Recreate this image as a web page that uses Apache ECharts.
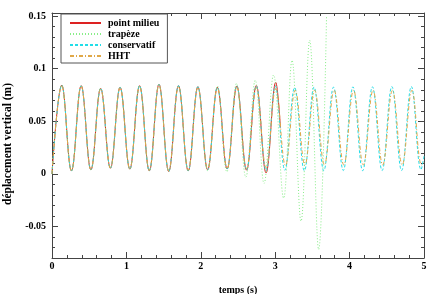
<!DOCTYPE html>
<html>
<head>
<meta charset="utf-8">
<script src="https://cdn.jsdelivr.net/npm/echarts@6/dist/echarts.min.js"></script>
<style>html,body{margin:0;padding:0;background:#fff}#c{width:431px;height:294px}</style>
</head>
<body>
<div id="c"></div>
<script>
// Series names
const seriesNames = ['point milieu', 'trapèze', 'conservatif', 'HHT'];

// point milieu (extrema)
const tMilieu = [0, 0.131, 0.2615, 0.392, 0.523, 0.654, 0.785, 0.915, 1.046, 1.177, 1.308, 1.438, 1.569, 1.700, 1.831, 1.961, 2.092, 2.223, 2.354, 2.484, 2.615, 2.746, 2.877, 3.007, 3.07];
const yMilieu = [0, 0.0845, 0.0028, 0.0839, 0.0038, 0.0814, 0.0054, 0.0823, 0.0045, 0.0839, 0.0028, 0.0852, 0.0022, 0.0839, 0.0028, 0.0829, 0.0038, 0.0823, 0.0047, 0.0836, 0.0035, 0.0840, 0.0010, 0.0870, 0.044];

// trapèze
const tTrapeze = [0, 0.131, 0.2615, 0.392, 0.523, 0.654, 0.785, 0.915, 1.046, 1.177, 1.308, 1.438, 1.569, 1.700, 1.831, 1.961, 2.092, 2.223, 2.350, 2.480, 2.605, 2.732, 2.850, 2.978, 3.113, 3.226, 3.347, 3.463, 3.584, 3.690];
const yTrapeze = [0, 0.0845, 0.0028, 0.0839, 0.0038, 0.0814, 0.0054, 0.0823, 0.0045, 0.0839, 0.0028, 0.0852, 0.0022, 0.0839, 0.0028, 0.0829, 0.0030, 0.0835, 0.0020, 0.0860, -0.0030, 0.0890, -0.0090, 0.0940, -0.0230, 0.1080, -0.0450, 0.1270, -0.0720, 0.1500];

// conservatif
const tConserv = [0, 0.131, 0.2615, 0.392, 0.523, 0.654, 0.785, 0.915, 1.046, 1.177, 1.308, 1.438, 1.569, 1.700, 1.831, 1.961, 2.092, 2.223, 2.354, 2.484, 2.615, 2.746, 2.877, 3.002, 3.130, 3.261, 3.392, 3.522, 3.653, 3.784, 3.915, 4.045, 4.176, 4.307, 4.437, 4.568, 4.699, 4.830, 4.960, 5.0];
const yConserv = [0, 0.0843, 0.0030, 0.0837, 0.0040, 0.0814, 0.0054, 0.0823, 0.0046, 0.0838, 0.0030, 0.0850, 0.0024, 0.0838, 0.0030, 0.0828, 0.0040, 0.0822, 0.0048, 0.0834, 0.0038, 0.0835, 0.0030, 0.0835, 0.0035, 0.0820, 0.0030, 0.0825, 0.0030, 0.0825, 0.0032, 0.0828, 0.0030, 0.0828, 0.0032, 0.0830, 0.0032, 0.0830, 0.0040, 0.0170];

// HHT
const tHHT = [0, 0.131, 0.2615, 0.392, 0.523, 0.654, 0.785, 0.915, 1.046, 1.177, 1.308, 1.438, 1.569, 1.700, 1.831, 1.961, 2.092, 2.223, 2.354, 2.484, 2.615, 2.746, 2.877, 3.007, 3.138, 3.269, 3.399, 3.530, 3.661, 3.792, 3.922, 4.053, 4.184, 4.315, 4.445, 4.576, 4.707, 4.838, 4.968, 5.0];
const yHHT = [0, 0.0840, 0.0030, 0.0835, 0.0040, 0.0810, 0.0055, 0.0820, 0.0050, 0.0830, 0.0035, 0.0845, 0.0030, 0.0830, 0.0035, 0.0820, 0.0045, 0.0815, 0.0050, 0.0825, 0.0050, 0.0820, 0.0060, 0.0810, 0.0080, 0.0795, 0.0085, 0.0795, 0.0085, 0.0795, 0.0085, 0.0795, 0.0085, 0.0795, 0.0085, 0.0795, 0.0085, 0.0795, 0.0085, 0.0110];

// Axis ticks
const xMin = 0, xMax = 5, xStep = 1;
const yMin = -0.08, yMax = 0.153, yMinorStep = 0.01;
const yMajorTicks = [-0.05, 0, 0.05, 0.1, 0.15];

const zip = (t, y) => t.map((v, i) => [v, y[i]]);

const font = '"Liberation Serif", "DejaVu Serif", serif';
const axisCol = '#444';

const chart = echarts.init(document.getElementById('c'), null, {renderer: 'canvas'});

function xAx(pos, labels) {
  return {
    type: 'value', position: pos, min: xMin, max: xMax, interval: xStep,
    name: labels ? 'temps (s)' : '', nameLocation: 'middle', nameGap: 27,
    nameTextStyle: {fontFamily: font, fontWeight: 'bold', fontSize: 10, color: '#000'},
    axisLine: {show: true, onZero: false, lineStyle: {color: axisCol, width: 1}},
    axisTick: {show: true, inside: true, length: 6, lineStyle: {color: axisCol}},
    minorTick: {show: true, splitNumber: 5, length: 3, lineStyle: {color: axisCol}},
    axisLabel: {show: labels, margin: 3, fontFamily: font, fontWeight: 'bold', fontSize: 10, color: '#000'},
    splitLine: {show: false}, minorSplitLine: {show: false}
  };
}
function yAx(pos, major, labels) {
  const a = {
    type: 'value', position: pos, min: yMin, max: yMax, offset: 0,
    axisLine: {show: !major, onZero: false, lineStyle: {color: axisCol, width: 1}},
    splitLine: {show: false},
    axisLabel: {show: false}
  };
  if (major) {
    a.axisTick = {show: true, inside: true, length: 6, customValues: yMajorTicks, lineStyle: {color: axisCol}};
  } else {
    a.interval = yMinorStep;
    a.axisTick = {show: true, inside: true, length: 3, lineStyle: {color: axisCol}};
  }
  if (labels) {
    a.axisLabel = {show: true, customValues: yMajorTicks, margin: 6, fontFamily: font, fontWeight: 'bold', fontSize: 10, color: '#000',
      formatter: v => String(Math.round(v * 100) / 100)};
    a.name = 'déplacement vertical (m)';
    a.nameLocation = 'middle';
    a.nameGap = 34;
    a.nameTextStyle = {fontFamily: font, fontWeight: 'bold', fontSize: 11.5, color: '#000', padding: [0, 0, 0, -17]};
  }
  return a;
}

const styles = [
  {color: '#dd2222', type: 'solid'},
  {color: '#88ee88', type: [1, 2]},
  {color: '#22dde8', type: [3, 2]},
  {color: '#e0a848', type: [4, 2, 1, 2]}
];
const datas = [zip(tMilieu, yMilieu), zip(tTrapeze, yTrapeze), zip(tConserv, yConserv), zip(tHHT, yHHT)];

chart.setOption({
  animation: false,
  backgroundColor: '#fff',
  grid: {left: 52, right: 7, top: 13, bottom: 36, containLabel: false, outerBoundsMode: 'none'},
  legend: {
    show: true, orient: 'vertical', left: 61, top: 14,
    padding: [4, 8, 2, 8], itemGap: 1, itemWidth: 31, itemHeight: 10,
    borderColor: '#555', borderWidth: 1, backgroundColor: '#fff',
    itemStyle: {opacity: 0, color: 'transparent', borderWidth: 0},
    textStyle: {fontFamily: font, fontWeight: 'bold', fontSize: 10, color: '#000', padding: [0, 0, 0, 2]},
    data: seriesNames.map(n => ({name: n}))
  },
  xAxis: [xAx('bottom', true), xAx('top', false)],
  yAxis: [yAx('left', false, true), yAx('left', true, false), yAx('right', false, false), yAx('right', true, false)],
  series: seriesNames.map((n, i) => ({
    name: n, type: 'line', xAxisIndex: 0, yAxisIndex: 0,
    data: datas[i], smooth: 0.4, symbol: 'none', showSymbol: false,
    color: styles[i].color,
    lineStyle: {width: 1, color: styles[i].color, type: styles[i].type}
  }))
});
</script>
</body>
</html>
